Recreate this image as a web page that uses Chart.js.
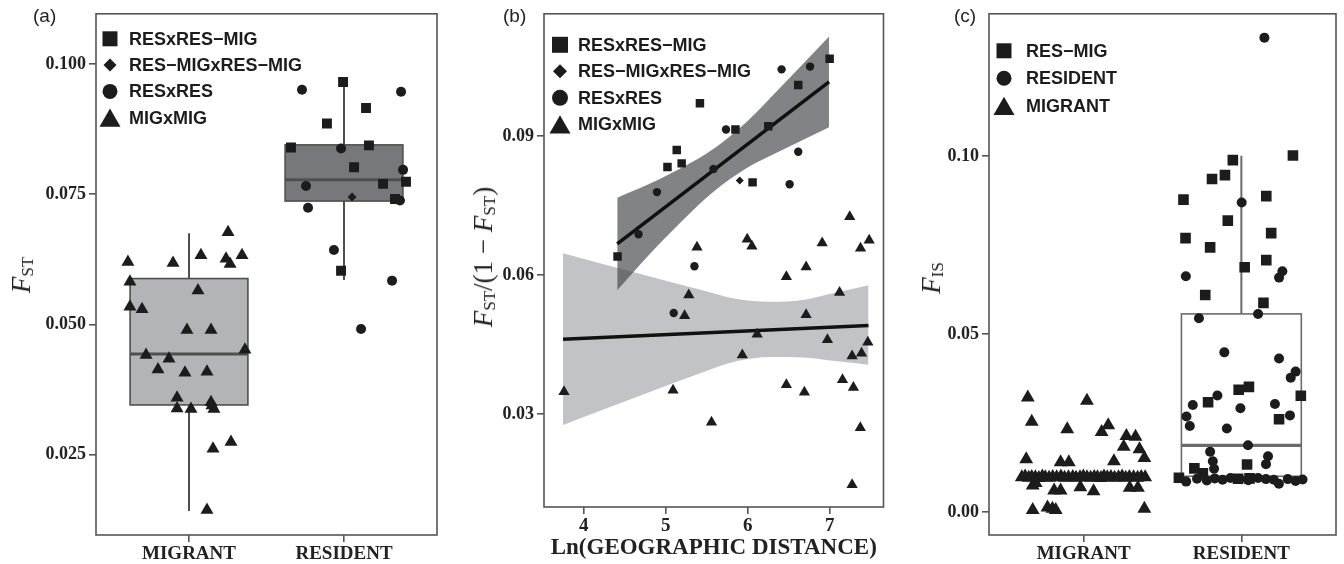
<!DOCTYPE html>
<html>
<head>
<meta charset="utf-8">
<script src="https://cdn.jsdelivr.net/npm/chart.js@4/dist/chart.umd.min.js"></script>
<style>
  body { margin: 0; width: 1344px; height: 564px; background: #fff; position: relative; overflow: hidden; }
  .panel { position: absolute; top: 0; height: 564px; }
  .tag { position: absolute; top: 5px; font: 19px "Liberation Sans", Arial, sans-serif; color: #222; }
  .yt { position: absolute; transform: translate(-50%, -50%) rotate(-90deg); white-space: nowrap;
        font: 27px "Liberation Serif", serif; color: #222; }
  .yt sub { font-size: 17px; vertical-align: -3px; }
</style>
</head>
<body>
<div class="panel" style="left:0;width:445px"><canvas id="chartA"></canvas></div>
<div class="panel" style="left:460px;width:430px"><canvas id="chartB"></canvas></div>
<div class="panel" style="left:905px;width:439px"><canvas id="chartC"></canvas></div>

<div class="tag" style="left:33px">(a)</div>
<div class="tag" style="left:503px">(b)</div>
<div class="tag" style="left:954px">(c)</div>
<div class="yt" style="left:22px;top:275px"><i>F</i><sub>ST</sub></div>
<div class="yt" style="left:484px;top:257px"><i>F</i><sub>ST</sub>/(1 − <i>F</i><sub>ST</sub>)</div>
<div class="yt" style="left:932px;top:278px"><i>F</i><sub>IS</sub></div>

<script>
// ---- panel (a): FST by group ----
const aCategories = ["MIGRANT", "RESIDENT"];
const aYTicks = [0.025, 0.05, 0.075, 0.1];

const aMigX = [1.252, 0.606, 0.897, 1.077, 1.239, 1.342, 1.265, 0.619, 1.058, 0.619, 0.697, 0.987, 1.142, 1.361,
  0.723, 0.871, 0.800, 0.974, 1.116, 0.923, 1.142, 0.923, 1.013, 1.161, 1.148, 1.155, 1.271, 1.116];
const aMigY = [0.0677, 0.0620, 0.0618, 0.0633, 0.0626, 0.0633, 0.0616, 0.0582, 0.0565, 0.0534, 0.0529, 0.0489, 0.0489, 0.0451,
  0.0441, 0.0434, 0.0413, 0.0407, 0.0409, 0.0359, 0.0350, 0.0338, 0.0337, 0.0337, 0.0344, 0.0261, 0.0274, 0.0143];
const aSqX = [1.994, 2.142, 1.890, 1.658, 2.161, 2.065, 2.252, 2.400, 2.329, 1.981];
const aSqY = [0.0966, 0.0916, 0.0886, 0.0840, 0.0844, 0.0802, 0.0770, 0.0774, 0.0741, 0.0603];
const aCircX = [1.729, 2.368, 1.981, 2.381, 1.755, 2.361, 1.768, 1.935, 2.310, 2.110];
const aCircY = [0.0951, 0.0947, 0.0838, 0.0797, 0.0766, 0.0738, 0.0724, 0.0643, 0.0584, 0.0491];
const aDiaX = [2.052];
const aDiaY = [0.0745];

const aQ1 = [0.0345, 0.0737];
const aMed = [0.0443, 0.0778];
const aQ3 = [0.0588, 0.0845];
const aLo = [0.0141, 0.0585];
const aHi = [0.0675, 0.0968];

// ---- panel (b): isolation by distance ----
const bXTicks = [4, 5, 6, 7];
const bYTicks = [0.03, 0.06, 0.09];

const bSqX = [7.000, 6.617, 5.418, 5.851, 6.252, 5.135, 5.022, 5.195, 6.060, 4.413];
const bSqY = [0.1067, 0.1010, 0.0971, 0.0914, 0.0921, 0.0870, 0.0833, 0.0841, 0.0800, 0.0640];
const bCircX = [6.761, 6.414, 5.736, 6.617, 5.583, 6.512, 4.894, 4.669, 5.351, 5.098];
const bCircY = [0.1050, 0.1044, 0.0914, 0.0866, 0.0829, 0.0796, 0.0779, 0.0688, 0.0619, 0.0518];
const bDiaX = [5.904];
const bDiaY = [0.0804];
const bTriX = [7.245, 5.995, 6.052, 5.382, 6.909, 7.377, 7.482, 6.713, 6.472, 5.282, 5.231, 7.121, 6.713, 6.116,
  6.973, 7.466, 5.935, 7.274, 7.389, 3.760, 5.090, 6.472, 6.692, 7.157, 7.290, 5.559, 7.374, 7.274];
const bTriY = [0.0726, 0.0677, 0.0662, 0.0660, 0.0669, 0.0658, 0.0675, 0.0617, 0.0596, 0.0557, 0.0512, 0.0562, 0.0514, 0.0472,
  0.0460, 0.0455, 0.0427, 0.0425, 0.0431, 0.0348, 0.0351, 0.0363, 0.0347, 0.0374, 0.0357, 0.0282, 0.0270, 0.0147];

// fitted lines and their confidence bands
const bResLineX = [4.409, 6.993];
const bResLineY = [0.0667, 0.1017];
const bResBandX = [4.409, 4.79, 5.19, 5.59, 5.99, 6.39, 6.993];
const bResBandHi = [0.0767, 0.0796, 0.0831, 0.0873, 0.0931, 0.1003, 0.1115];
const bResBandLo = [0.0567, 0.0642, 0.0715, 0.0781, 0.0831, 0.0867, 0.0919];
const bMigLineX = [3.748, 7.474];
const bMigLineY = [0.0461, 0.0491];
const bMigBandX = [3.748, 4.670, 5.471, 5.871, 6.272, 6.673, 7.073, 7.474];
const bMigBandHi = [0.0647, 0.0603, 0.0566, 0.0548, 0.0542, 0.0546, 0.0562, 0.0578];
const bMigBandLo = [0.0276, 0.0338, 0.0391, 0.0414, 0.0423, 0.0422, 0.0414, 0.0406];

// ---- panel (c): FIS by group ----
const cCategories = ["MIGRANT", "RESIDENT"];
const cYTicks = [0, 0.05, 0.1];

const cSqX = [2.327, 1.946, 1.896, 1.814, 1.633, 2.158, 1.914, 2.189, 1.646, 1.802, 2.158, 2.021, 1.771, 2.140,
  2.048, 1.983, 2.377, 1.789, 2.239, 2.036, 1.702, 1.756, 1.604, 1.979, 2.052];
const cSqY = [0.1001, 0.0988, 0.0946, 0.0935, 0.0877, 0.0887, 0.0818, 0.0783, 0.0769, 0.0743, 0.0707, 0.0687, 0.0609, 0.0587,
  0.0351, 0.0343, 0.0326, 0.0308, 0.0260, 0.0133, 0.0122, 0.0108, 0.0096, 0.0093, 0.0094];
const cCircX = [2.146, 2.002, 1.648, 2.260, 2.239, 2.106, 1.731, 1.892, 2.239, 2.344, 2.313, 1.848, 1.692, 2.213,
  1.994, 2.308, 1.652, 1.673, 1.908, 2.042, 1.802, 2.169, 1.819, 2.156, 1.827,
  1.650, 1.719, 1.781, 1.831, 1.881, 1.931, 1.988, 2.044, 2.106, 2.156, 2.206, 2.238, 2.294, 2.344, 2.388];
const cCircY = [0.1332, 0.0869, 0.0662, 0.0676, 0.0658, 0.0556, 0.0544, 0.0448, 0.0431, 0.0394, 0.0377, 0.0327, 0.0300, 0.0303,
  0.0291, 0.0271, 0.0268, 0.0241, 0.0234, 0.0187, 0.0169, 0.0156, 0.0142, 0.0134, 0.0121,
  0.0085, 0.0093, 0.0088, 0.0094, 0.0090, 0.0095, 0.0092, 0.0089, 0.0095, 0.0092, 0.0090, 0.0079, 0.0092, 0.0087, 0.0091];
const cTriX = [0.646, 1.021, 0.671, 0.896, 1.156, 1.114, 1.271, 1.329, 1.254, 1.354, 1.385, 0.636, 0.854, 0.906, 1.192,
  0.608, 0.629, 0.652, 0.671, 0.694, 0.716, 0.738, 0.757, 0.781, 0.804, 0.829, 0.856, 0.879, 0.904, 0.931, 0.952, 0.977,
  0.998, 1.021, 1.044, 1.067, 1.088, 1.110, 1.129, 1.150, 1.173, 1.196, 1.221, 1.244, 1.267, 1.290, 1.317, 1.342, 1.365, 1.390,
  0.677, 0.813, 0.854, 0.979, 1.063, 1.292, 1.344, 0.696,
  0.677, 0.771, 0.802, 0.823, 1.385];
const cTriY = [0.0321, 0.0312, 0.0253, 0.0232, 0.0243, 0.0224, 0.0213, 0.0211, 0.0183, 0.0176, 0.0151, 0.0148, 0.0139, 0.0139, 0.0142,
  0.0097, 0.0099, 0.0096, 0.0098, 0.0097, 0.0095, 0.0099, 0.0097, 0.0096, 0.0098, 0.0097, 0.0099, 0.0096, 0.0097, 0.0098, 0.0096, 0.0097,
  0.0099, 0.0097, 0.0096, 0.0098, 0.0097, 0.0095, 0.0099, 0.0097, 0.0098, 0.0096, 0.0097, 0.0099, 0.0096, 0.0098, 0.0097, 0.0096, 0.0098, 0.0097,
  0.0074, 0.0060, 0.0060, 0.0069, 0.0058, 0.0068, 0.0068, 0.0081,
  0.0005, 0.0012, 0.0009, 0.0005, 0.0009];

const cQ1 = [0.0092, 0.0100];
const cMed = [0.0097, 0.0187];
const cQ3 = [0.0101, 0.0556];
const cLo = [0.0088, 0.0082];
const cHi = [0.0106, 0.1000];

const INK = "#1c1c1c";
const AXIS = "#555";
const serifBold = { family: "'Liberation Serif', 'Times New Roman', serif", weight: "bold", size: 18 };

function pts(xs, ys) {
  return xs.map((x, i) => ({ x, y: ys[i] }));
}

function marks(data, style, radius) {
  return {
    type: "scatter", data, pointStyle: style, pointRadius: radius, pointHoverRadius: radius,
    backgroundColor: INK, borderWidth: 0, order: 1
  };
}

function drawGlyph(ctx, shape, cx, cy, s) {
  ctx.beginPath();
  if (shape === "rect") {
    ctx.rect(cx - s / 2, cy - s / 2, s, s);
  } else if (shape === "circle") {
    ctx.arc(cx, cy, s / 2, 0, Math.PI * 2);
  } else if (shape === "rectRot") {
    ctx.moveTo(cx, cy - s / 2); ctx.lineTo(cx + s / 2, cy); ctx.lineTo(cx, cy + s / 2); ctx.lineTo(cx - s / 2, cy);
  } else {
    const h = s * 0.87;
    ctx.moveTo(cx, cy - h / 2); ctx.lineTo(cx + s / 2, cy + h / 2); ctx.lineTo(cx - s / 2, cy + h / 2);
  }
  ctx.closePath();
  ctx.fill();
}

// boxes under the points, panel frame and key on top
function deco(boxes, legend) {
  return {
    id: "deco",
    beforeDatasetsDraw(chart) {
      const { ctx, scales: { x, y } } = chart;
      ctx.save();
      boxes.forEach(b => {
        const xl = x.getPixelForValue(b.pos - 0.38), xr = x.getPixelForValue(b.pos + 0.38);
        const xc = x.getPixelForValue(b.pos);
        const t = y.getPixelForValue(b.q3), bt = y.getPixelForValue(b.q1);
        ctx.strokeStyle = b.line;
        ctx.lineWidth = 2;
        ctx.beginPath();
        ctx.moveTo(xc, y.getPixelForValue(b.hi)); ctx.lineTo(xc, t);
        ctx.moveTo(xc, bt); ctx.lineTo(xc, y.getPixelForValue(b.lo));
        ctx.stroke();
        if (b.fill) {
          ctx.fillStyle = b.fill;
          ctx.fillRect(xl, t, xr - xl, bt - t);
        }
        ctx.lineWidth = 1.6;
        ctx.strokeRect(xl, t, xr - xl, bt - t);
        ctx.lineWidth = 3.2;
        ctx.beginPath();
        const m = y.getPixelForValue(b.med);
        ctx.moveTo(xl, m); ctx.lineTo(xr, m);
        ctx.stroke();
      });
      ctx.restore();
    },
    afterDraw(chart) {
      const { ctx, chartArea: a } = chart;
      ctx.save();
      ctx.strokeStyle = AXIS;
      ctx.lineWidth = 1.6;
      ctx.strokeRect(a.left, a.top, a.right - a.left, a.bottom - a.top);
      ctx.fillStyle = INK;
      ctx.font = "bold 18px 'Liberation Sans', Arial, sans-serif";
      ctx.textBaseline = "middle";
      legend.items.forEach((it, i) => {
        const cy = a.top + legend.top + i * legend.gap;
        drawGlyph(ctx, it.shape, a.left + legend.symX, cy, it.size);
        ctx.fillText(it.label, a.left + legend.textX, cy + 1);
      });
      ctx.restore();
    }
  };
}

function boxList(q1, med, q3, lo, hi, fills, line) {
  return q1.map((v, i) => ({ pos: i + 1, q1: v, med: med[i], q3: q3[i], lo: lo[i], hi: hi[i], fill: fills[i], line }));
}

function axes(xMin, xMax, xTicks, xLabel, xHeight, yMin, yMax, yTicks, yFmt, yWidth, xTitle) {
  const grid = { drawOnChartArea: false, drawTicks: true, tickLength: 7, color: AXIS, lineWidth: 1.6 };
  return {
    x: {
      type: "linear", min: xMin, max: xMax, grid, border: { display: false },
      afterBuildTicks: s => { s.ticks = xTicks.map(v => ({ value: v })); },
      afterFit: s => { s.height = xHeight; },
      ticks: { font: Object.assign({}, serifBold, { size: 19 }), color: "#222", padding: 1, maxRotation: 0,
        callback: v => xLabel ? xLabel[Math.round(v) - 1] : String(v) },
      title: xTitle ? { display: true, text: xTitle, color: "#222", padding: { top: 0, bottom: 2 },
        font: { family: serifBold.family, weight: "bold", size: 23 } } : { display: false }
    },
    y: {
      type: "linear", min: yMin, max: yMax, grid, border: { display: false },
      afterBuildTicks: s => { s.ticks = yTicks.map(v => ({ value: v })); },
      afterFit: s => { s.width = yWidth; },
      ticks: { font: serifBold, color: "#222", padding: 3, callback: v => v.toFixed(yFmt) }
    }
  };
}

const common = {
  responsive: true, maintainAspectRatio: false, animation: false, events: [],
  plugins: { legend: { display: false }, tooltip: { enabled: false } }
};

// (a)
new Chart(document.getElementById("chartA"), {
  type: "scatter",
  data: {
    datasets: [
      marks(pts(aMigX, aMigY), "triangle", 7.5),
      marks(pts(aSqX, aSqY), "rect", 7),
      marks(pts(aCircX, aCircY), "circle", 5),
      marks(pts(aDiaX, aDiaY), "rectRot", 4.5)
    ]
  },
  options: Object.assign({}, common, {
    layout: { padding: { top: 8, right: 8, left: 0, bottom: 0 } },
    scales: axes(0.4, 2.6, [1, 2], aCategories, 29, 0.0095, 0.1097, aYTicks, 3, 96)
  }),
  plugins: [deco(
    boxList(aQ1, aMed, aQ3, aLo, aHi, ["#b3b4b7", "#77787b"], "#4f4f4f"),
    { symX: 14, textX: 33, top: 25, gap: 26.3, items: [
      { label: "RESxRES−MIG", shape: "rect", size: 15 },
      { label: "RES−MIGxRES−MIG", shape: "rectRot", size: 13 },
      { label: "RESxRES", shape: "circle", size: 15 },
      { label: "MIGxMIG", shape: "triangle", size: 21 }
    ] }
  )]
});

// (b)
function band(xs, ys, fill, order) {
  return {
    type: "line", showLine: true, data: pts(xs, ys), borderWidth: 0, pointRadius: 0,
    backgroundColor: fill, fill, cubicInterpolationMode: "monotone", order
  };
}

new Chart(document.getElementById("chartB"), {
  type: "scatter",
  data: {
    datasets: [
      Object.assign(band(bMigBandX, bMigBandHi, "rgba(138,140,146,0.52)", 10), { fill: "+1" }),
      band(bMigBandX, bMigBandLo, false, 10),
      Object.assign(band(bResBandX, bResBandHi, "rgba(70,72,76,0.68)", 9), { fill: "+1" }),
      band(bResBandX, bResBandLo, false, 9),
      { type: "line", showLine: true, data: pts(bMigLineX, bMigLineY), borderColor: "#111", borderWidth: 3.5, pointRadius: 0, order: 5 },
      { type: "line", showLine: true, data: pts(bResLineX, bResLineY), borderColor: "#111", borderWidth: 3.5, pointRadius: 0, order: 5 },
      marks(pts(bTriX, bTriY), "triangle", 6.5),
      marks(pts(bSqX, bSqY), "rect", 6),
      marks(pts(bCircX, bCircY), "circle", 4.2),
      marks(pts(bDiaX, bDiaY), "rectRot", 4)
    ]
  },
  options: Object.assign({}, common, {
    layout: { padding: { top: 8, right: 2, left: 0, bottom: 0 } },
    scales: axes(3.516, 7.657, bXTicks, null, 57, 0.0099, 0.1164, bYTicks, 2, 84, "Ln(GEOGRAPHIC DISTANCE)")
  }),
  plugins: [deco([], { symX: 16, textX: 34, top: 31, gap: 26.5, items: [
    { label: "RESxRES−MIG", shape: "rect", size: 16 },
    { label: "RES−MIGxRES−MIG", shape: "rectRot", size: 14 },
    { label: "RESxRES", shape: "circle", size: 16 },
    { label: "MIGxMIG", shape: "triangle", size: 21 }
  ] })]
});

// (c)
new Chart(document.getElementById("chartC"), {
  type: "scatter",
  data: {
    datasets: [
      marks(pts(cTriX, cTriY), "triangle", 8),
      marks(pts(cCircX, cCircY), "circle", 5),
      marks(pts(cSqX, cSqY), "rect", 7.5)
    ]
  },
  options: Object.assign({}, common, {
    layout: { padding: { top: 8, right: 3, left: 0, bottom: 0 } },
    scales: axes(0.4, 2.6, [1, 2], cCategories, 29, -0.0065, 0.1399, cYTicks, 2, 84)
  }),
  plugins: [deco(
    boxList(cQ1, cMed, cQ3, cLo, cHi, [null, null], "#6b6b6b"),
    { symX: 15, textX: 37, top: 37, gap: 27.5, items: [
      { label: "RES−MIG", shape: "rect", size: 15 },
      { label: "RESIDENT", shape: "circle", size: 15 },
      { label: "MIGRANT", shape: "triangle", size: 21 }
    ] }
  )]
});
</script>
</body>
</html>
